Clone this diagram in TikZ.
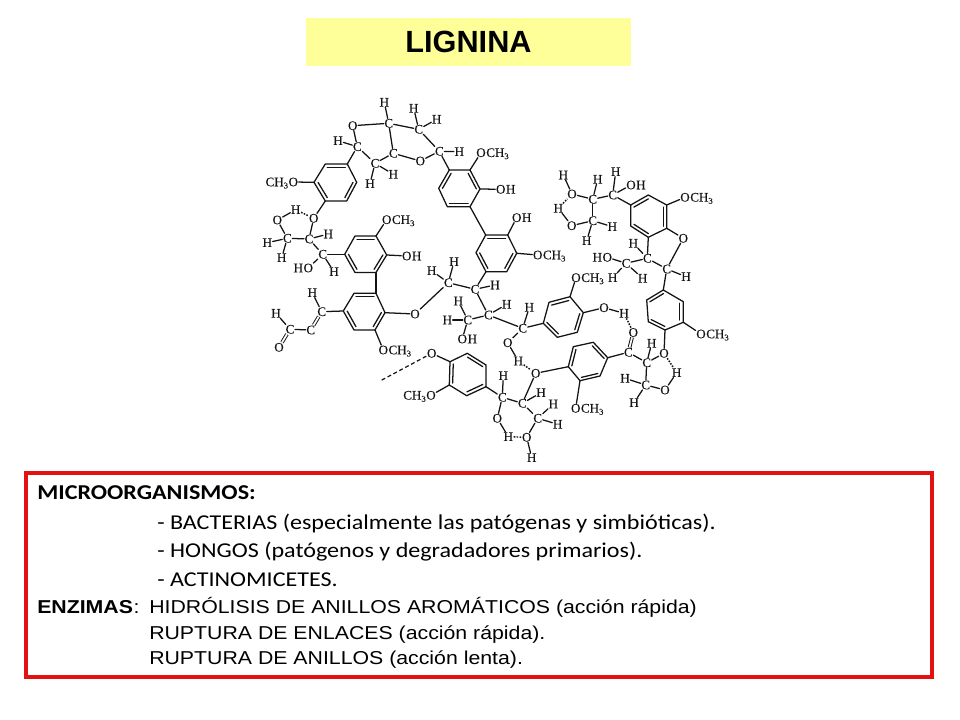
\documentclass[tikz,border=0pt]{standalone}
\usepackage{fontspec}
\newfontfamily\chemf[FakeBold=0.25]{Liberation Serif}
\newfontfamily\titlef{Liberation Sans}
\newfontfamily\arialf[FakeStretch=1.14]{Liberation Sans}
\newfontfamily\calib[FakeStretch=1.14]{Carlito}
\usetikzlibrary{calc}
\definecolor{frame}{RGB}{226,18,18}
\definecolor{banner}{RGB}{255,255,153}
\definecolor{ink}{RGB}{20,20,20}
\newcommand\sbs[1]{\raisebox{-0.35ex}{\fontsize{6.5pt}{7pt}\selectfont #1}}
\tikzset{
  atom/.style={inner sep=.3pt,text height=6.4pt,text depth=0pt,text=ink,font=\chemf\fontsize{9.8pt}{10pt}\selectfont},
  bond/.style={line width=.95pt,draw=ink,line cap=round},
  dbond/.style={draw=ink,line width=.7pt,double,double distance=1.3pt},
  hbond/.style={draw=ink,line width=1.1pt,dash pattern=on 1.2pt off 1pt},
  dashbond/.style={draw=ink,line width=.9pt,dash pattern=on 3pt off 2pt},
  cali/.style={anchor=base west,inner sep=0,text=black,font=\calib\fontsize{15.85pt}{16pt}\selectfont},
  ari/.style={anchor=base west,inner sep=0,text=black,font=\arialf\fontsize{14pt}{15pt}\selectfont},
}
\newcommand\Ring[8]{%
  \coordinate (#1-1) at (#2);\coordinate (#1-2) at (#3);\coordinate (#1-3) at (#4);
  \coordinate (#1-4) at (#5);\coordinate (#1-5) at (#6);\coordinate (#1-6) at (#7);
  \coordinate (#1-c) at ($(#1-1)!.5!(#1-4)$);
  \draw[bond,line join=round] (#1-1)--(#1-2)--(#1-3)--(#1-4)--(#1-5)--(#1-6)--cycle;
  \foreach \a/\b in {#8} \draw[bond] ($(#1-\a)!.18!(#1-c)$) -- ($(#1-\b)!.18!(#1-c)$);
}
\newcommand\AtR[5]{\node[atom] (#1) at (#2,#3) {#4};\node[atom,anchor=base west,inner xsep=0pt] (#1t) at ([xshift=-.3pt]#1.base east) {#5};}
\newcommand\AtL[5]{\node[atom] (#1) at (#2,#3) {#4};\node[atom,anchor=base east,inner xsep=0pt] (#1t) at ([xshift=.3pt]#1.base west) {#5};}
\begin{document}
\begin{tikzpicture}[x=.75pt,y=-.75pt]
\useasboundingbox (0,0) rectangle (960,720);
% banner
\node[fill=banner,minimum width=243.75pt,minimum height=36pt,inner sep=0,font=\titlef\bfseries\fontsize{23pt}{24pt}\selectfont,text=black] (title) at (468.5,42) {LIGNINA};
% frame
\node[draw=frame,line width=3.2pt,minimum width=679.5pt,minimum height=153pt,inner sep=0] (panel) at (479,575) {};
% rings
\Ring{A}{347.3,164}{325.3,164}{314,182.3}{325.3,201}{346.7,201}{356.7,182.3}{1/2,3/4,5/6}
\Ring{B}{344.7,254.3}{355,236}{376,236}{386.7,255}{376,272.5}{355,272.5}{2/3,4/5,6/1}
\Ring{C}{449.3,170}{470,170}{480,189}{470,206.7}{447.3,206.7}{438.7,188.3}{2/3,4/5,6/1}
\Ring{D}{485.7,235}{507.7,235}{516.7,253.3}{506.7,271.7}{486,271.7}{476,252.7}{1/2,3/4,5/6}
\Ring{E}{543.3,323.3}{549,302.3}{570,296.7}{583.3,312.7}{577.3,332.3}{557.3,337.3}{2/3,4/5,6/1}
\Ring{F}{607.7,357.7}{600,376}{580,380.7}{568.3,366.7}{573.3,346.7}{593.3,342.3}{2/3,4/5,6/1}
\Ring{G}{450,361.7}{467.3,353.3}{486,365}{486,386.7}{466.7,395.7}{449.3,385}{2/3,4/5,6/1}
\Ring{H}{665,330}{648.3,321.7}{646.7,300}{663.3,290}{683.3,301.7}{683.3,322.3}{1/2,3/4,5/6}
\Ring{I}{630.7,205}{648.3,195}{666.7,205}{666.7,228.3}{648.3,237.3}{630.7,226}{1/2,3/4,5/6}
\Ring{K}{376,293.3}{354,293.3}{343.3,311}{354,330}{375,330}{385,312.7}{1/2,3/4,5/6}
% atoms
\foreach \n/\x/\y/\t in {
 ha1/384.3/102.3/H, ca1/388.7/123.3/C, oa1/352.7/125.7/O, ha2/413.7/108.3/H, ca2/418.7/129.3/C,
 ha3/436.7/119.3/H, ha4/338/140.7/H, ca3/357.3/146.7/C, ca4/393.3/153.3/C, ca5/375/163.3/C,
 oa2/420.3/161/O, ca6/439.3/151.3/C, ha5/459.3/151.7/H, ha6/393.3/174.3/H, ha7/370/183.7/H,
 ob1/313.7/218.3/O, hb1/295.7/209.7/H, ob2/277.3/220/O, cb1/287.3/238.3/C, cb2/309/239/C,
 hb2/328.3/234/H, hb3/267.3/242.7/H, hb4/281.7/257.7/H, cb3/322.7/254.3/C, hb5/334/271.7/H,
 cc1/475/289.3/C, cc2/448.3/282.7/C, hc1/431.7/270.7/H, hc2/454/261.7/H, hc3/495/285/H,
 cc3/488.3/315/C, hc4/506.7/304.3/H, oc1/415/314/O, cc4/467.7/320/C, hc5/458.3/301/H,
 hc6/447.3/320/H, cc5/522.7/328.3/C, hc7/529.3/307.3/H, oc2/507.7/342.7/O,
 od1/604/307.7/O, hd1/624/313.3/H, od2/633.3/332.5/O, cd1/628.3/352.3/C,
 od3/535.7/373.3/O, hd2/518.3/361/H, cd2/522.3/403.3/C, hd3/541/392.7/H, cd3/502.3/397.3/C,
 hd4/503.3/375.7/H, od4/431.7/353.3/O, od5/497.3/418.3/O, hd5/508.3/436.7/H, od6/526.7/437.3/O,
 hd6/531.7/457.7/H, cd4/537.7/418.3/C, hd7/553.3/404/H, hd8/557.7/424.3/H,
 oe1/664/353.3/O, he1/651.7/343.3/H, ce1/646.7/362.7/C, he2/676.7/372.7/H, oe2/665/390/O,
 ce2/645.7/385/C, he3/625/378.3/H, he4/634/402.7/H,
 hf1/563.3/175/H, of1/572/194/O, hf2/558.3/208.3/H, of2/571.7/225.7/O, cf1/592.7/199.3/C,
 hf3/597.7/179.3/H, cf2/592.7/220.7/C, hf4/612.3/226.7/H, hf5/586.7/240.7/H, cf3/612.7/195/C,
 hf6/615.7/171.7/H, of3/683.3/238.3/O, cf4/666.7/269/C, hf7/686/276.7/H, cf5/647.3/258.3/C,
 hf8/633.3/243.3/H, cf6/626/263.3/C, hf9/612.7/277.7/H, hf0/642.7/278.3/H,
 cg1/321.7/311.7/C, hg1/312.3/292.7/H, cg2/310.7/330/C, cg3/290/329.3/C, hg2/276/313.3/H, og1/279/347.3/O%
} { \node[atom] (\n) at (\x,\y) {\t}; }
% atoms with a tail
\AtL{ma}{293.3}{182}{O}{CH\sbs{3}}
\AtR{mb}{386.7}{219.7}{O}{CH\sbs{3}}
\AtR{mc}{406.7}{256}{O}{H}
\AtL{md}{308.3}{268}{O}{H}
\AtR{me}{481}{152.7}{O}{CH\sbs{3}}
\AtR{mf}{500.7}{189.3}{O}{H}
\AtR{mg}{516.7}{217.7}{O}{H}
\AtR{mh}{537.7}{255}{O}{CH\sbs{3}}
\AtR{mi}{462.3}{339}{O}{H}
\AtR{mj}{576}{277.7}{O}{CH\sbs{3}}
\AtR{mk}{631}{185}{O}{H}
\AtR{ml}{685}{197.3}{O}{CH\sbs{3}}
\AtL{mm}{607.3}{257.3}{O}{H}
\AtR{mn}{701}{334}{O}{CH\sbs{3}}
\AtR{mo}{575.7}{408.3}{O}{CH\sbs{3}}
\AtR{mp}{383.3}{350}{O}{CH\sbs{3}}
\AtL{mq}{431}{395.3}{O}{CH\sbs{3}}
\coordinate (tailend) at (380,381);
% single bonds
\foreach \a/\b in {
 ha1/ca1, oa1/ca1, ca1/ca2, ca2/ha2, ca2/ha3, ca2/ca6, ca1/ca4, oa1/ca3, ca3/ha4, ca3/ca5, ca5/ca4,
 ca5/ha6, ca5/ha7, ca4/oa2, oa2/ca6, ca6/ha5, ca3/A-1, ca6/C-1,
 A-3/ma, A-4/ob1, hb1/ob2, ob2/cb1, cb1/cb2, ob1/cb2, cb2/hb2, cb1/hb3, cb1/hb4, cb2/cb3, cb3/md, cb3/hb5, cb3/B-1,
 B-3/mb, B-4/mc, C-2/me, C-3/mf, C-4/D-1, D-2/mg, D-3/mh, D-5/cc1,
 cc1/cc2, cc2/hc1, cc2/hc2, cc1/hc3, cc1/cc3, cc3/hc4, cc2/oc1, cc3/cc4, cc4/hc5, cc4/hc6, cc4/mi,
 cc3/cc5, cc5/hc7, cc5/oc2, cc5/E-1, E-3/mj, E-4/od1, od1/hd1, cd1/F-1, F-3/mo, F-4/od3, oc2/hd2,
 od3/cd2, cd2/hd3, cd2/cd3, cd3/hd4, cd3/G-4, G-1/od4, G-6/mq, cd3/od5, od5/hd5, hd6/od6,
 cd2/cd4, cd4/od6, cd4/hd7, cd4/hd8,
 H-1/oe1, H-6/mn, oe1/ce1, cd1/ce1, ce1/he1, ce1/ce2, ce2/oe2, he2/oe2, ce2/he3, ce2/he4,
 hf1/of1, of1/cf1, hf2/of2, of2/cf2, cf1/hf3, cf1/cf2, cf2/hf4, cf2/hf5, cf1/cf3, cf3/hf6, cf3/mk, cf3/I-1,
 I-3/ml, I-4/of3, of3/cf4, cf4/hf7, I-5/cf5, cf5/cf4, cf5/hf8, cf5/cf6, cf6/mm, cf6/hf9, cf6/hf0, cf4/H-4,
 B-5/K-1, K-6/oc1, K-3/cg1, cg1/hg1, cg2/cg3, cg3/hg2, K-5/mp%
} { \draw[bond] (\a) -- (\b); }
% double bonds
\foreach \a/\b in {cg1/cg2, cg3/og1, cd1/od2} { \draw[dbond] (\a) -- (\b); }
% hydrogen bonds
\foreach \a/\b in {hb1/ob1, hf2/of1, hd1/od2, hd2/od3, hd5/od6, oe1/he2} { \draw[hbond] (\a) -- (\b); }
\draw[dashbond] (od4) -- (tailend);
% text
\node[cali,font=\calib\bfseries\fontsize{15.85pt}{16pt}\selectfont] (t1) at (37,499) {MICROORGANISMOS:};
\node[cali] (t2) at (157,529) {- BACTERIAS (especialmente las patógenas y simbióticas).};
\node[cali] (t3) at (157,557.3) {- HONGOS (patógenos y degradadores primarios).};
\node[cali] (t4) at (157,586.7) {- ACTINOMICETES.};
\node[ari,font=\arialf\bfseries\fontsize{14pt}{15pt}\selectfont] (t5) at (37,613) {ENZIMAS};
\node[ari] (t5b) at (t5.base east) {:};
\node[ari] (t6) at (149,613) {HIDRÓLISIS DE ANILLOS AROMÁTICOS (acción rápida)};
\node[ari] (t7) at (149,639) {RUPTURA DE ENLACES (acción rápida).};
\node[ari] (t8) at (149,664.5) {RUPTURA DE ANILLOS (acción lenta).};
\end{tikzpicture}
\end{document}
